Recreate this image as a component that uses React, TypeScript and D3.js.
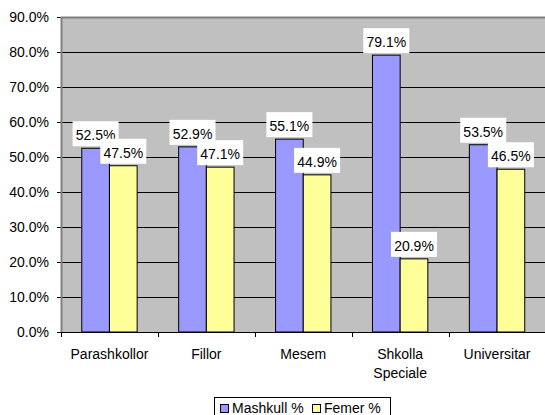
import React from "react";
import * as d3 from "d3";

const categories = ["Parashkollor", "Fillor", "Mesem", "Shkolla\nSpeciale", "Universitar"];
const mashkull = [52.5, 52.9, 55.1, 79.1, 53.5];
const femer = [47.5, 47.1, 44.9, 20.9, 46.5];
const seriesNames = ["Mashkull %", "Femer %"];
const yTicks = [0, 10, 20, 30, 40, 50, 60, 70, 80, 90];

const W = 545, H = 415;
const left = 61, right = 545.5, top = 17, bottom = 332;
const FONT = "Arial, 'Liberation Sans', sans-serif";

export default function App() {
  const x = d3.scaleBand<number>().domain(d3.range(categories.length)).range([left, right]).paddingInner(0).paddingOuter(0);
  const y = d3.scaleLinear().domain([0, 90]).range([bottom, top]);
  const bw = x.bandwidth();
  const barW = bw / 3.5;
  const groupOff = (bw - 2 * barW) / 2;
  const series = [
    { name: seriesNames[0], values: mashkull, color: "#9999FF" },
    { name: seriesNames[1], values: femer, color: "#FFFF99" },
  ];
  return (
    <svg width={W} height={H} style={{ position: "absolute", left: 0, top: 0 }} fontFamily={FONT}>
      <rect x={0} y={0} width={W} height={H} fill="#fff" />
      <rect x={left} y={top} width={right - left} height={bottom - top} fill="#C0C0C0" />
      {yTicks.map((t) => (
        <g key={t}>
          {t > 0 && t < 90 && <line x1={left} x2={right} y1={Math.round(y(t)) + 0.5} y2={Math.round(y(t)) + 0.5} stroke="#000" strokeWidth={1} />}
          <line x1={left - 4} x2={left} y1={Math.round(y(t)) + 0.5} y2={Math.round(y(t)) + 0.5} stroke="#000" />
          <text x={49} y={y(t)} dy="0.35em" textAnchor="end" fontSize={14} fill="#000">{t.toFixed(1)}%</text>
        </g>
      ))}
      <line x1={left} x2={right} y1={top + 0.5} y2={top + 0.5} stroke="#808080" strokeWidth={2} />
      {series.map((s, si) =>
        s.values.map((v, i) => {
          const bx = (x(i) as number) + groupOff + si * barW;
          return (
            <rect key={si + "-" + i} x={bx} y={y(v)} width={barW} height={bottom - y(v)} fill={s.color} stroke="#000" strokeWidth={1} />
          );
        })
      )}
      {series.map((s, si) =>
        s.values.map((v, i) => {
          const cx = (x(i) as number) + groupOff + si * barW + barW / 2;
          const by = y(v);
          return (
            <g key={"l" + si + "-" + i}>
              <rect x={cx - 23} y={by - 27} width={46} height={25} fill="#fff" />
              <text x={cx} y={by - 8} textAnchor="middle" fontSize={14} fill="#000">{v.toFixed(1)}%</text>
            </g>
          );
        })
      )}
      <line x1={left + 0.5} x2={left + 0.5} y1={top} y2={bottom} stroke="#808080" strokeWidth={2} />
      <line x1={left} x2={right} y1={bottom + 0.5} y2={bottom + 0.5} stroke="#000" />
      {d3.range(categories.length + 1).map((i) => {
        const tx = Math.round(left + i * bw) + 0.5;
        return <line key={"t" + i} x1={tx} x2={tx} y1={bottom} y2={bottom + 5} stroke="#000" />;
      })}
      {categories.map((c, i) => (
        <text key={c} x={(x(i) as number) + bw / 2} y={359} textAnchor="middle" fontSize={14} fill="#000">
          {c.split("\n").map((ln, k) => (
            <tspan key={k} x={(x(i) as number) + bw / 2} dy={k === 0 ? 0 : 19}>{ln}</tspan>
          ))}
        </text>
      ))}
      <g>
        <rect x={214.5} y={397.5} width={176} height={22} fill="#fff" stroke="#000" />
        {series.map((s, si) => {
          const sx = si === 0 ? 220 : 312;
          return (
            <g key={"lg" + si}>
              <rect x={sx + 0.5} y={404.5} width={8} height={8} fill={s.color} stroke="#000" />
              <text x={sx + 12} y={413} fontSize={14} fill="#000">{s.name}</text>
            </g>
          );
        })}
      </g>
    </svg>
  );
}
